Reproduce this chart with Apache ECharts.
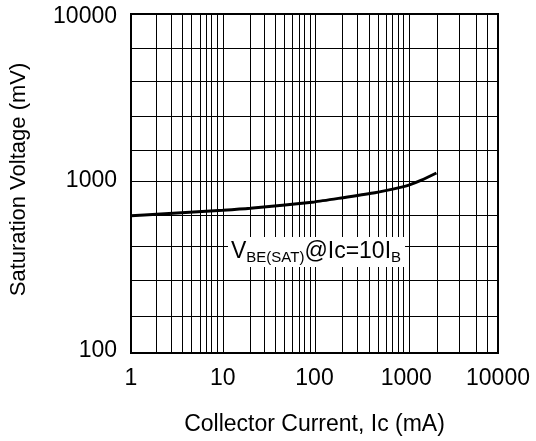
<!DOCTYPE html>
<html>
<head>
<meta charset="utf-8">
<script src="https://cdn.jsdelivr.net/npm/echarts@6/dist/echarts.min.js"></script>
<style>
html,body{margin:0;padding:0;background:#fff;}
#chart{width:536px;height:441px;}
</style>
</head>
<body>
<div id="chart"></div>
<script>
// Collector current (mA) vs VBE(SAT) (mV)
var currentMA = [1, 1.9, 10, 20, 100, 205, 454, 887, 1066, 1465, 2133];
var vbeSatMV = [645, 659, 696, 715, 779, 825, 882, 952, 978, 1046, 1153];
// grid line positions
var xGridValues = [1.9, 2.77, 3.66, 4.58, 5.64, 6.56, 7.56, 8.71, 10.1,
  19.8, 28.3, 37.7, 47.2, 57.1, 67.6, 77.2, 89.7, 102.6,
  202, 294, 391, 493, 598, 708, 809, 933, 1066,
  2190, 3760, 5820, 7670];
var yGridValues = [165, 270, 427, 654, 1032, 1564, 2501, 4001, 6312];
var xTickLabels = ['1', '10', '100', '1000', '10000'];
var yTickLabels = ['100', '1000', '10000'];
var xTitle = 'Collector Current, Ic (mA)';
var yTitle = 'Saturation Voltage (mV)';

var FONT = '"Liberation Sans", Arial, sans-serif';
var chart = echarts.init(document.getElementById('chart'));

var gridLines = [];
xGridValues.forEach(function (v) { gridLines.push({ xAxis: v }); });
yGridValues.forEach(function (v) { gridLines.push({ yAxis: v }); });

var yLabelStyle = { fontFamily: FONT, fontSize: 23, color: '#000' };

chart.setOption({
  animation: false,
  backgroundColor: '#fff',
  grid: { left: 131, right: 38, top: 14, bottom: 84, show: true, borderColor: '#000', borderWidth: 2, backgroundColor: 'transparent' },
  xAxis: {
    type: 'log', logBase: 10, min: 1, max: 10000,
    name: xTitle, nameLocation: 'middle', nameGap: 60,
    nameTextStyle: { fontFamily: FONT, fontSize: 23, color: '#000' },
    axisLine: { show: false },
    axisTick: { show: false },
    splitLine: { show: false },
    axisLabel: {
      fontFamily: FONT, fontSize: 23, color: '#000', margin: 14,
      formatter: function (v) {
        var s = String(Math.round(v));
        return xTickLabels.indexOf(s) >= 0 ? s : '';
      }
    }
  },
  yAxis: {
    type: 'log', logBase: 10, min: 100, max: 10000,
    name: yTitle, nameLocation: 'middle', nameGap: 101,
    nameTextStyle: { fontFamily: FONT, fontSize: 22, color: '#000', padding: [0, 0, 0, 8] },
    axisLine: { show: false },
    axisTick: { show: false },
    splitLine: { show: false },
    axisLabel: {
      fontFamily: FONT, fontSize: 23, color: '#000', margin: 14,
      formatter: function (v) {
        var s = String(Math.round(v));
        if (yTickLabels.indexOf(s) < 0) return '';
        if (s === '10000') return '{hi|' + s + '}';
        return '{lo|' + s + '}';
      },
      rich: {
        lo: Object.assign({ padding: [0, 0, 5, 0] }, yLabelStyle),
        hi: Object.assign({ padding: [5, 0, 0, 0] }, yLabelStyle)
      }
    }
  },
  series: [{
    type: 'line',
    data: currentMA.map(function (c, i) { return [c, vbeSatMV[i]]; }),
    showSymbol: false,
    symbol: 'none',
    smooth: 0.2,
    lineStyle: { color: '#000', width: 3 },
    z: 5,
    markLine: {
      silent: true,
      symbol: ['none', 'none'],
      label: { show: false },
      lineStyle: { color: '#000', width: 1, type: 'solid' },
      emphasis: { disabled: true },
      data: gridLines,
      z: 1
    }
  }],
  graphic: [{
    type: 'text',
    left: 228,
    top: 237,
    z: 100,
    style: {
      text: '{v|V}{s|BE(SAT)}{v|@Ic=10I}{s|B}',
      backgroundColor: '#fff',
      padding: [2, 4, 2, 3],
      rich: {
        v: { fontFamily: FONT, fontSize: 23, lineHeight: 26, fill: '#000', color: '#000' },
        s: { fontFamily: FONT, fontSize: 15, lineHeight: 26, fill: '#000', color: '#000', verticalAlign: 'bottom', padding: [0, 0, 0, 0] }
      }
    }
  }]
});
</script>
</body>
</html>
